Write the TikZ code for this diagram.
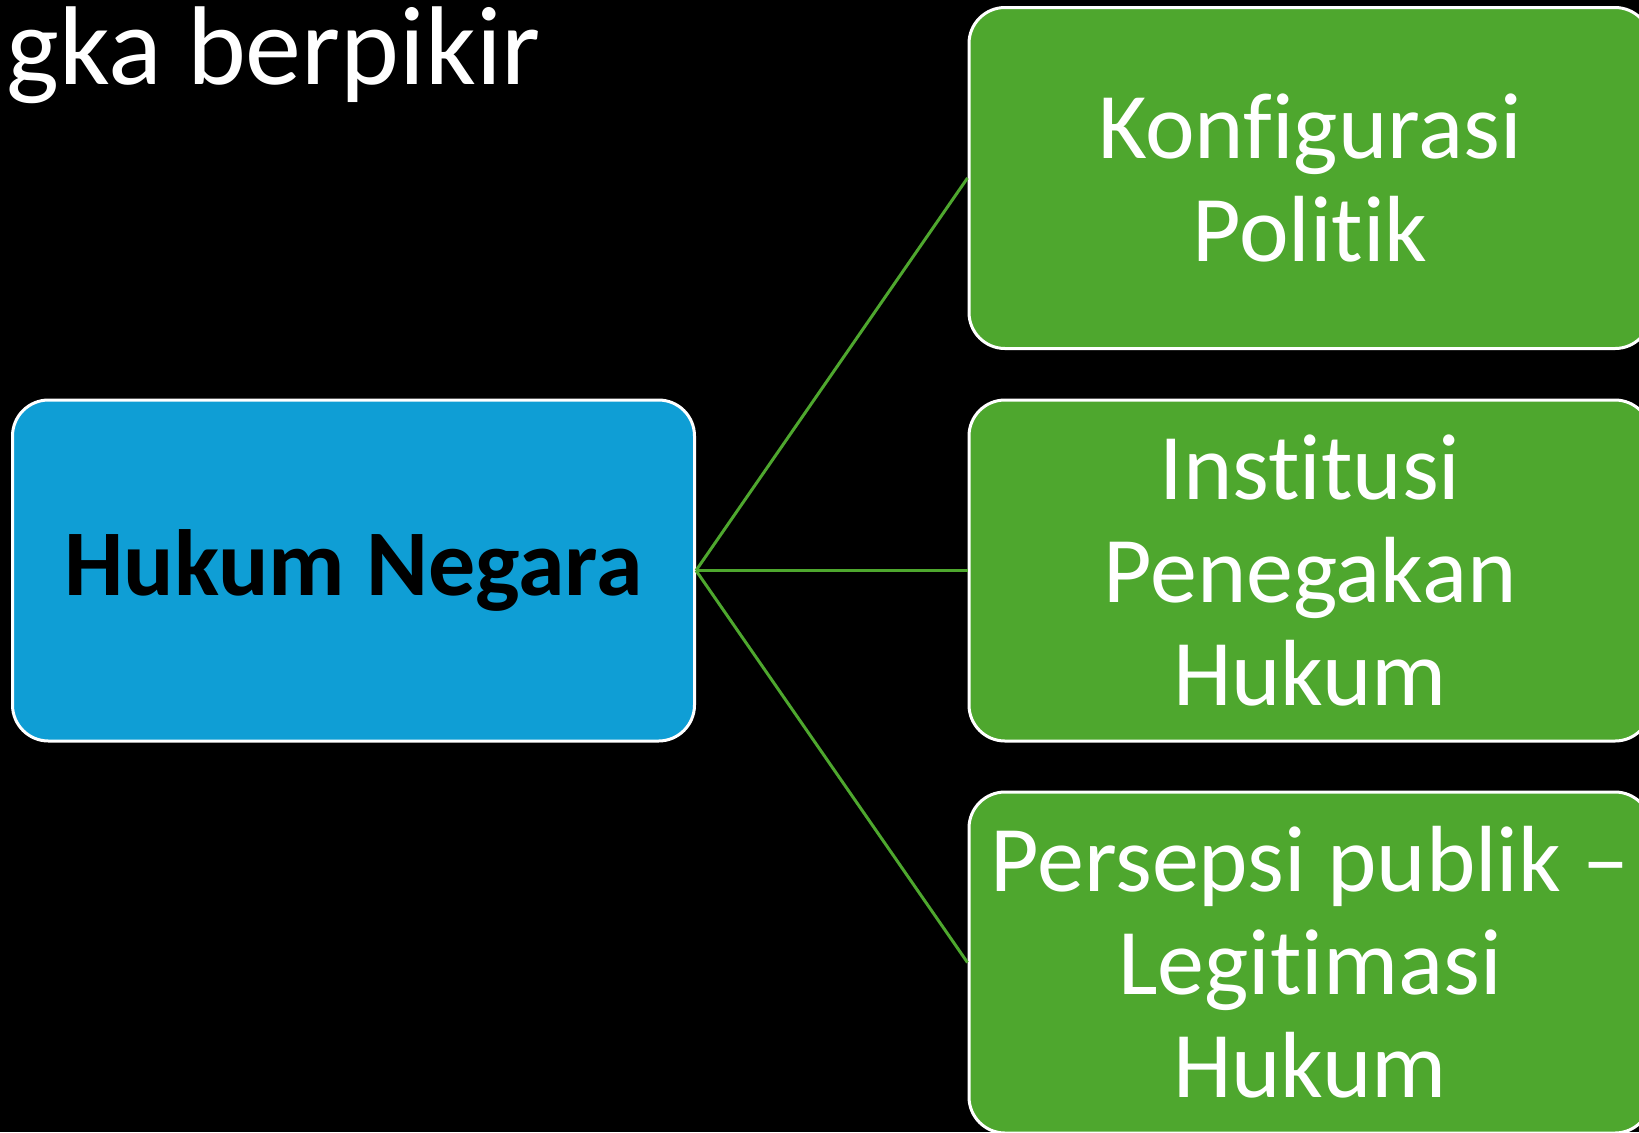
\documentclass[tikz,border=0pt]{standalone}
\usepackage{fontspec}
\setmainfont{Carlito}[Ligatures={TeX,NoCommon}]
\usepackage{tikz}
\usetikzlibrary{positioning}
\definecolor{biru}{HTML}{0F9ED5}
\definecolor{hijau}{HTML}{4EA72E}
\tikzstyle{link} = [hijau, line width=1.5pt]

\begin{document}
\begin{tikzpicture}[
  x=0.5pt, y=-0.5pt,
  pokok/.style={rectangle, draw=white, line width=1.5pt, rounded corners=18pt, fill=biru, text=black, align=center, minimum width=341pt, minimum height=170.5pt, font=\fontsize{47}{51.5}\selectfont\bfseries},
  faktor/.style={rectangle, draw=white, line width=1.5pt, rounded corners=18pt, fill=hijau, text=white, align=center, minimum width=341pt, minimum height=170.5pt, font=\fontsize{47}{51.5}\selectfont}
]
% Background and page
\fill[black] (0,0) rectangle (1639,1132);
\useasboundingbox (0,0) rectangle (1639,1132);
\clip (0,0) rectangle (1639,1132);

% Title (cut at the left edge)
\node[anchor=base west, inner sep=0pt, text=white, font=\fontsize{56}{60}\selectfont] (judul) at (6,84) {gka berpikir};

% Main node
\node[pokok] (hukum) at (353.5,570.5) {Hukum Negara};

% Three factors
\node[faktor] (konfigurasi) at (1310,178) {Konfigurasi\\Politik};
\node[faktor] (institusi) at (1310,570.5) {Institusi\\Penegakan\\Hukum};
\node[faktor] (persepsi) at (1310,962.5) {Persepsi publik –\\Legitimasi\\Hukum};

% Connectors
\draw[link] (hukum.east) -- (konfigurasi.west);
\draw[link] (hukum.east) -- (institusi.west);
\draw[link] (hukum.east) -- (persepsi.west);
\end{tikzpicture}
\end{document}
